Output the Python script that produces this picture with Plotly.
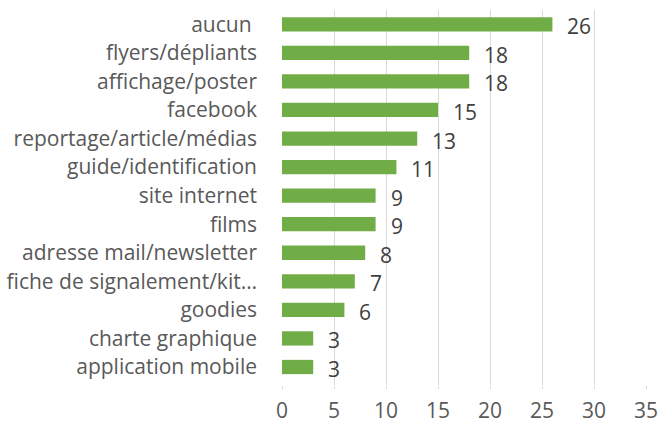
import plotly.graph_objects as go

categories = ["aucun ", "flyers/dépliants", "affichage/poster", "facebook",
              "reportage/article/médias", "guide/identification", "site internet",
              "films", "adresse mail/newsletter", "fiche de signalement/kit…",
              "goodies", "charte graphique", "application mobile"]
values = [26, 18, 18, 15, 13, 11, 9, 9, 8, 7, 6, 3, 3]
x_ticks = [0, 5, 10, 15, 20, 25, 30, 35]

FONT = "Open Sans"
FS = 21
fig = go.Figure(go.Bar(
    x=values, y=categories, orientation="h",
    marker=dict(color="#70AD47", line=dict(width=0)), width=0.5,
    hoverinfo="skip",
))
for c, v in zip(categories, values):
    fig.add_annotation(x=v, y=c, text=str(v), showarrow=False, xanchor="left",
                       xshift=13, yshift=-2, font=dict(family=FONT, size=FS, color="#404040"))

fig.update_layout(
    template="none",
    width=660, height=426,
    margin=dict(l=282, r=14, t=10, b=41),
    paper_bgcolor="white", plot_bgcolor="white",
    showlegend=False,
    font=dict(family=FONT, size=FS, color="#595959"),
)
fig.update_xaxes(range=[0, 35], tickvals=x_ticks, showgrid=True, gridcolor="#D9D9D9",
                 gridwidth=1, zeroline=False, showline=False, ticks="outside",
                 ticklen=3, tickcolor="#D9D9D9", ticklabelstandoff=4, automargin=False,
                 ticklabeloverflow="allow",
                 tickfont=dict(family=FONT, size=FS, color="#595959"))
fig.update_yaxes(categoryorder="array", categoryarray=categories[::-1],
                 showgrid=False, zeroline=False, showline=False, ticks="",
                 ticklabelstandoff=24, automargin=False,
                 tickfont=dict(family=FONT, size=FS, color="#595959"))
fig.write_html("out.html", config={"displayModeBar": False, "staticPlot": True},
               post_script="document.body.style.margin='0';")
